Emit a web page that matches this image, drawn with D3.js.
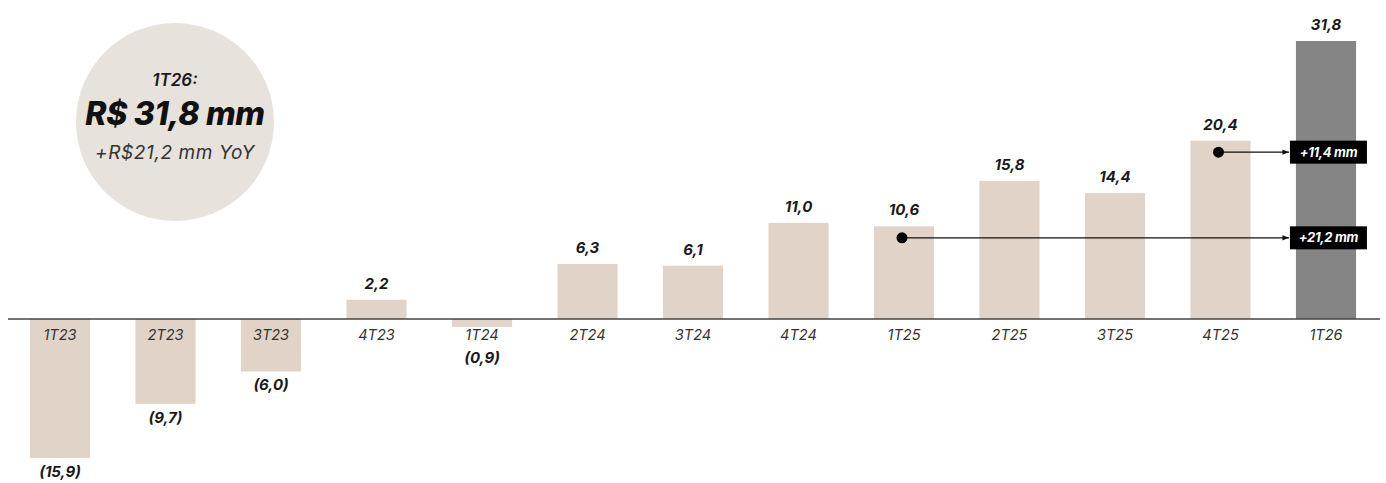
<!DOCTYPE html>
<html>
<head>
<meta charset="utf-8">
<script src="https://cdn.jsdelivr.net/npm/d3@7"></script>
<style>
  body { margin: 0; background: #fff; }
  #chart { width: 1386px; height: 483px; }
  text { font-family: "Inter", "Open Sans", sans-serif; font-style: italic; }
</style>
</head>
<body>
<div id="chart"></div>
<script>
//Datos
const trimestres = ['1T23','2T23','3T23','4T23','1T24','2T24','3T24','4T24','1T25','2T25','3T25','4T25','1T26'];
const valores = [-15.9, -9.7, -6.0, 2.2, -0.9, 6.3, 6.1, 11.0, 10.6, 15.8, 14.4, 20.4, 31.8];
const etiquetas = ['(15,9)','(9,7)','(6,0)','2,2','(0,9)','6,3','6,1','11,0','10,6','15,8','14,4','20,4','31,8'];
//Anotaciones: desde que trimestre, texto de la caja
const anotaciones = [
    { desde: '4T25', texto: '+11,4 mm' },
    { desde: '1T25', texto: '+21,2 mm' }
];
const destaque = ['1T26:', 'R$ 31,8 mm', '+R$21,2 mm YoY'];

//Colores
const COLOR_BAR = '#E2D3C8',
COLOR_LAST = '#858585',
COLOR_CIRCLE = '#E8E2DD',
COLOR_TEXT = '#1a1a1a',
COLOR_AXIS = '#444';

let width = 1386, height = 483;

let svg = d3.select('#chart')
    .append('svg')
    .attr('width', width)
    .attr('height', height);

let x = d3.scaleBand()
    .domain(trimestres)
    .range([7.25, 1378.75])
    .paddingInner(0.43)
    .paddingOuter(0.215);

let y = d3.scaleLinear()
    .domain([-15.9, 31.8])
    .range([458, 41]);

//Circulo de destaque
let circ = svg.append('g').attr('transform', 'translate(175,122)');
circ.append('circle').attr('r', 99).attr('fill', COLOR_CIRCLE);
circ.append('text').attr('y', -36).attr('text-anchor', 'middle')
    .style('font-size', '17px').style('font-weight', 600).attr('fill', COLOR_TEXT)
    .text(destaque[0]);
circ.append('text').attr('y', 3).attr('text-anchor', 'middle')
    .style('font-size', '32px').style('font-weight', 800).attr('fill', '#111')
    .style('letter-spacing', '-0.3px')
    .text(destaque[1]);
circ.append('text').attr('y', 37).attr('text-anchor', 'middle')
    .style('font-size', '19px').style('font-weight', 400).attr('fill', '#333')
    .style('letter-spacing', '0.6px')
    .text(destaque[2]);

//Barras
let last = trimestres[trimestres.length - 1];
svg.append('g')
    .selectAll('rect')
    .data(valores)
    .enter()
    .append('rect')
    .attr('x', (d, i) => x(trimestres[i]))
    .attr('width', x.bandwidth())
    .attr('y', d => y(Math.max(0, d)))
    .attr('height', d => Math.abs(y(d) - y(0)))
    .attr('fill', (d, i) => trimestres[i] === last ? COLOR_LAST : COLOR_BAR);

//Eje
svg.append('line')
    .attr('x1', 8).attr('x2', 1380)
    .attr('y1', y(0)).attr('y2', y(0))
    .attr('stroke', COLOR_AXIS).attr('stroke-width', 1.5);

svg.append('g')
    .selectAll('text')
    .data(trimestres)
    .enter()
    .append('text')
    .attr('x', d => x(d) + x.bandwidth() / 2)
    .attr('y', y(0) + 21)
    .attr('text-anchor', 'middle')
    .style('font-size', '14.5px')
    .attr('fill', '#333')
    .text(d => d);

//Etiquetas de valor
svg.append('g')
    .selectAll('text')
    .data(valores)
    .enter()
    .append('text')
    .attr('x', (d, i) => x(trimestres[i]) + x.bandwidth() / 2)
    .attr('y', d => d >= 0 ? y(d) - 11 : Math.max(y(d) + 19, y(0) + 44))
    .attr('text-anchor', 'middle')
    .style('font-size', '15px')
    .style('font-weight', 700)
    .attr('fill', COLOR_TEXT)
    .text((d, i) => etiquetas[i]);

//Anotaciones
svg.append('defs').append('marker')
    .attr('id', 'flecha')
    .attr('viewBox', '0 0 10 10')
    .attr('refX', 10).attr('refY', 5)
    .attr('markerWidth', 5).attr('markerHeight', 5)
    .attr('orient', 'auto')
    .append('path').attr('d', 'M0,1L10,5L0,9Z').attr('fill', '#111');

let boxX = x(last) - 6, boxW = 77, boxH = 23;
anotaciones.forEach(function(a) {
    let i = trimestres.indexOf(a.desde);
    let cx = x(a.desde) + x.bandwidth() / 2 - 2;
    let cy = y(valores[i]) + 11.5;
    let g = svg.append('g');
    g.append('line')
        .attr('x1', cx).attr('x2', boxX - 1)
        .attr('y1', cy).attr('y2', cy)
        .attr('stroke', '#111').attr('stroke-width', 1.3)
        .attr('marker-end', 'url(#flecha)');
    g.append('circle').attr('cx', cx).attr('cy', cy).attr('r', 5.5).attr('fill', '#000');
    g.append('rect')
        .attr('x', boxX).attr('y', cy - boxH / 2)
        .attr('width', boxW).attr('height', boxH)
        .attr('fill', '#000');
    g.append('text')
        .attr('x', boxX + boxW / 2).attr('y', cy + 4.5)
        .attr('text-anchor', 'middle')
        .style('font-size', '13px').style('font-weight', 700)
        .style('letter-spacing', '-0.3px')
        .attr('fill', '#fff')
        .text(a.texto);
});
</script>
</body>
</html>
